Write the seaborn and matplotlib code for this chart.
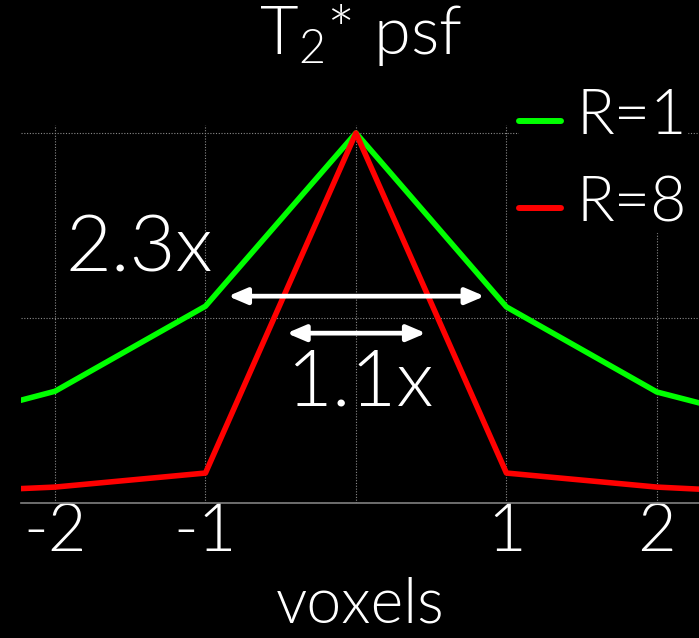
import matplotlib
matplotlib.use("Agg")
import matplotlib.pyplot as plt
from matplotlib.patches import ArrowStyle
from matplotlib.legend_handler import HandlerLine2D
import seaborn as sns
import pandas as pd

# Point spread function samples (voxel offsets and normalised amplitude)
voxels = [-3, -2, -1, 0, 1, 2, 3]
psf_r1 = [0.195, 0.302, 0.532, 1.0, 0.530, 0.300, 0.195]
psf_r8 = [0.025, 0.043, 0.081, 1.0, 0.081, 0.043, 0.023]
series_labels = ["R=1", "R=8"]
series_colors = ["#00ff00", "#ff0000"]

xtick_values = [-2, -1, 0, 1, 2]
xtick_labels = ["-2", "-1", "", "1", "2"]
ytick_values = [0, 0.5, 1.0]

# Width ratios marked by arrows
width_notes = ["2.3x", "1.1x"]

df = pd.DataFrame({
    "voxels": voxels * 2,
    "psf": psf_r1 + psf_r8,
    "R": [series_labels[0]] * len(voxels) + [series_labels[1]] * len(voxels),
})

sns.set_theme(style="dark")
FONT = ["Lato", "DejaVu Sans"]
WEIGHT = 300
plt.rcParams.update({
    "font.family": FONT,
    "font.weight": WEIGHT,
    "axes.titleweight": WEIGHT,
    "axes.labelweight": WEIGHT,
    "mathtext.fontset": "custom",
    "mathtext.rm": "Lato:weight=300",
    "mathtext.it": "Lato:weight=300",
    "figure.facecolor": "black",
    "axes.facecolor": "black",
    "text.color": "white",
    "xtick.color": "white",
    "ytick.color": "white",
})


class LoweredLine(HandlerLine2D):
    """Legend line sitting a little below the label's centre."""

    def create_artists(self, legend, orig_handle, xdescent, ydescent,
                       width, height, fontsize, trans):
        artists = super().create_artists(legend, orig_handle, xdescent, ydescent,
                                         width, height, fontsize, trans)
        for a in artists:
            a.set_ydata([y - 6.5 for y in a.get_ydata()])
        return artists


W, H = 699, 638
fig = plt.figure(figsize=(W / 100, H / 100), dpi=100)
ax = fig.add_axes([21 / W, (H - 503) / H, (W - 21) / W, (503 - 125) / H])

sns.lineplot(
    data=df, x="voxels", y="psf", hue="R",
    palette=dict(zip(series_labels, series_colors)),
    linewidth=4.0, ax=ax, legend=True, zorder=3,
)

ax.set_xlim(-2.226, 2.28)
ax.set_ylim(0, 1.0216)
ax.set_xticks(xtick_values)
ax.set_xticklabels(xtick_labels, fontsize=48, fontweight=WEIGHT)
ax.set_yticks(ytick_values)
ax.set_yticklabels([])
ax.tick_params(axis="both", length=0)
ax.tick_params(axis="x", pad=0)
ax.grid(True, color="#8a8a8a", linestyle=(0, (1, 1.5)), linewidth=0.8)
ax.set_axisbelow(True)

for side in ["top", "left", "right"]:
    ax.spines[side].set_visible(False)
ax.spines["bottom"].set_color("#808080")
ax.spines["bottom"].set_linewidth(1.2)

ax.set_xlabel("voxels", fontsize=45, color="white", labelpad=10, fontweight=WEIGHT)
ax.set_ylabel("")
ax.set_title("T$_2$* psf", fontsize=48, color="white", pad=51)

# Width arrows
style = ArrowStyle("<|-|>", head_length=0.75, head_width=0.32)
for (x0, x1, y) in [(-0.85, 0.855, 0.559), (-0.46, 0.465, 0.459)]:
    ax.annotate("", xy=(x1, y), xytext=(x0, y),
                arrowprops=dict(arrowstyle=style, color="white", lw=3.4,
                                mutation_scale=15, shrinkA=0, shrinkB=0),
                zorder=5)

ax.text(-1.44, 0.684, width_notes[0], fontsize=57, color="white",
        ha="center", va="center", zorder=6, fontweight=WEIGHT)
ax.text(0.03, 0.322, width_notes[1], fontsize=57, color="white",
        ha="center", va="center", zorder=6, fontweight=WEIGHT)

handles, labels = ax.get_legend_handles_labels()
for h in handles:
    h.set_linewidth(4.3)
leg = ax.legend(handles, labels, loc="upper left",
                bbox_to_anchor=(519 / W, 1 - 88 / H), bbox_transform=fig.transFigure,
                prop={"family": FONT, "weight": WEIGHT, "size": 45},
                frameon=True, facecolor="black", edgecolor="black",
                framealpha=1.0, borderpad=0.0, borderaxespad=0.0,
                handlelength=0.67, handletextpad=0.25, labelspacing=0.48,
                handler_map={h: LoweredLine() for h in handles})
for t in leg.get_texts():
    t.set_color("white")
leg.set_zorder(4)

fig.savefig("out.png", dpi=100, facecolor="black")
